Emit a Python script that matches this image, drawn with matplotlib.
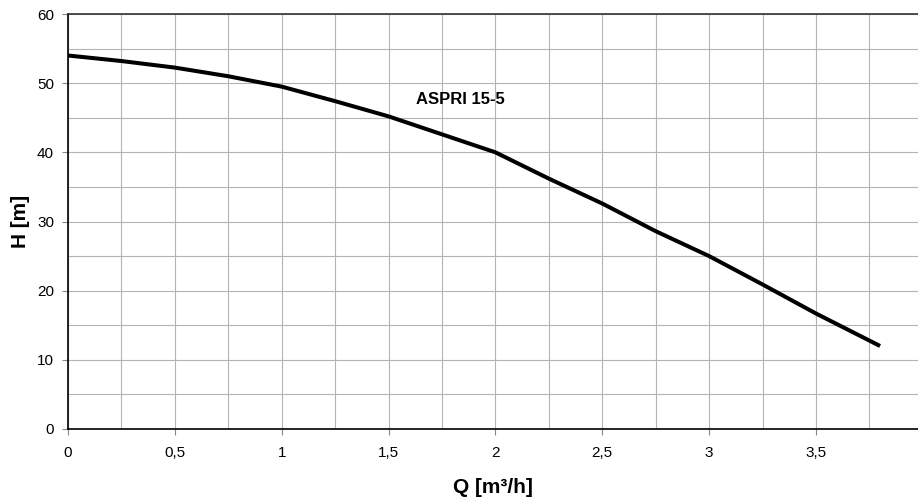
import numpy as np
import matplotlib.pyplot as plt
from matplotlib.ticker import MultipleLocator, FuncFormatter

# pump curve ASPRI 15-5
q = [0, 0.25, 0.5, 0.75, 1.0, 1.25, 1.5, 1.75, 2.0, 2.25, 2.5, 2.75, 3.0, 3.25, 3.5, 3.8]
h = [54.0, 53.2, 52.25, 51.0, 49.5, 47.4, 45.2, 42.6, 40.0, 36.2, 32.6, 28.6, 25.0, 20.9, 16.7, 12.0]
curve_name = 'ASPRI 15-5'

plt.rcParams['font.family'] = ['Liberation Sans', 'DejaVu Sans']

fig = plt.figure(figsize=(9.18, 4.97), dpi=100)
ax = fig.add_axes([68/918, 68/497, 850/918, 415/497])

ax.plot(q, h, color='black', lw=2.9, solid_joinstyle='round', solid_capstyle='butt')
ax.text(1.63, 47.6, curve_name, fontsize=12, fontweight='bold', va='center')

ax.set_xlim(0, 850/213.7)
ax.set_ylim(0, 60)
ax.xaxis.set_major_locator(MultipleLocator(0.5))
ax.xaxis.set_minor_locator(MultipleLocator(0.25))
ax.yaxis.set_major_locator(MultipleLocator(10))
ax.yaxis.set_minor_locator(MultipleLocator(5))
comma = FuncFormatter(lambda v, p: ('%g' % v).replace('.', ','))
ax.xaxis.set_major_formatter(comma)
ax.yaxis.set_major_formatter(comma)

ax.grid(which='both', color='#b4b4b4', lw=0.8)
ax.set_axisbelow(True)
ax.tick_params(which='major', length=4, width=0.8, color='#888888', labelsize=11)
ax.tick_params(axis='x', which='major', pad=8)
ax.tick_params(axis='y', which='major', pad=6)
ax.tick_params(which='minor', length=0)

ax.spines['right'].set_visible(False)
for s in ['left', 'bottom', 'top']:
    ax.spines[s].set_linewidth(1.2)
ax.spines['top'].set_color('#333333')

ax.set_xlabel('Q [m³/h]', fontsize=15, fontweight='bold', labelpad=13)
ax.set_ylabel('H [m]', fontsize=15, fontweight='bold', labelpad=5)

fig.savefig('out.png', dpi=100)
